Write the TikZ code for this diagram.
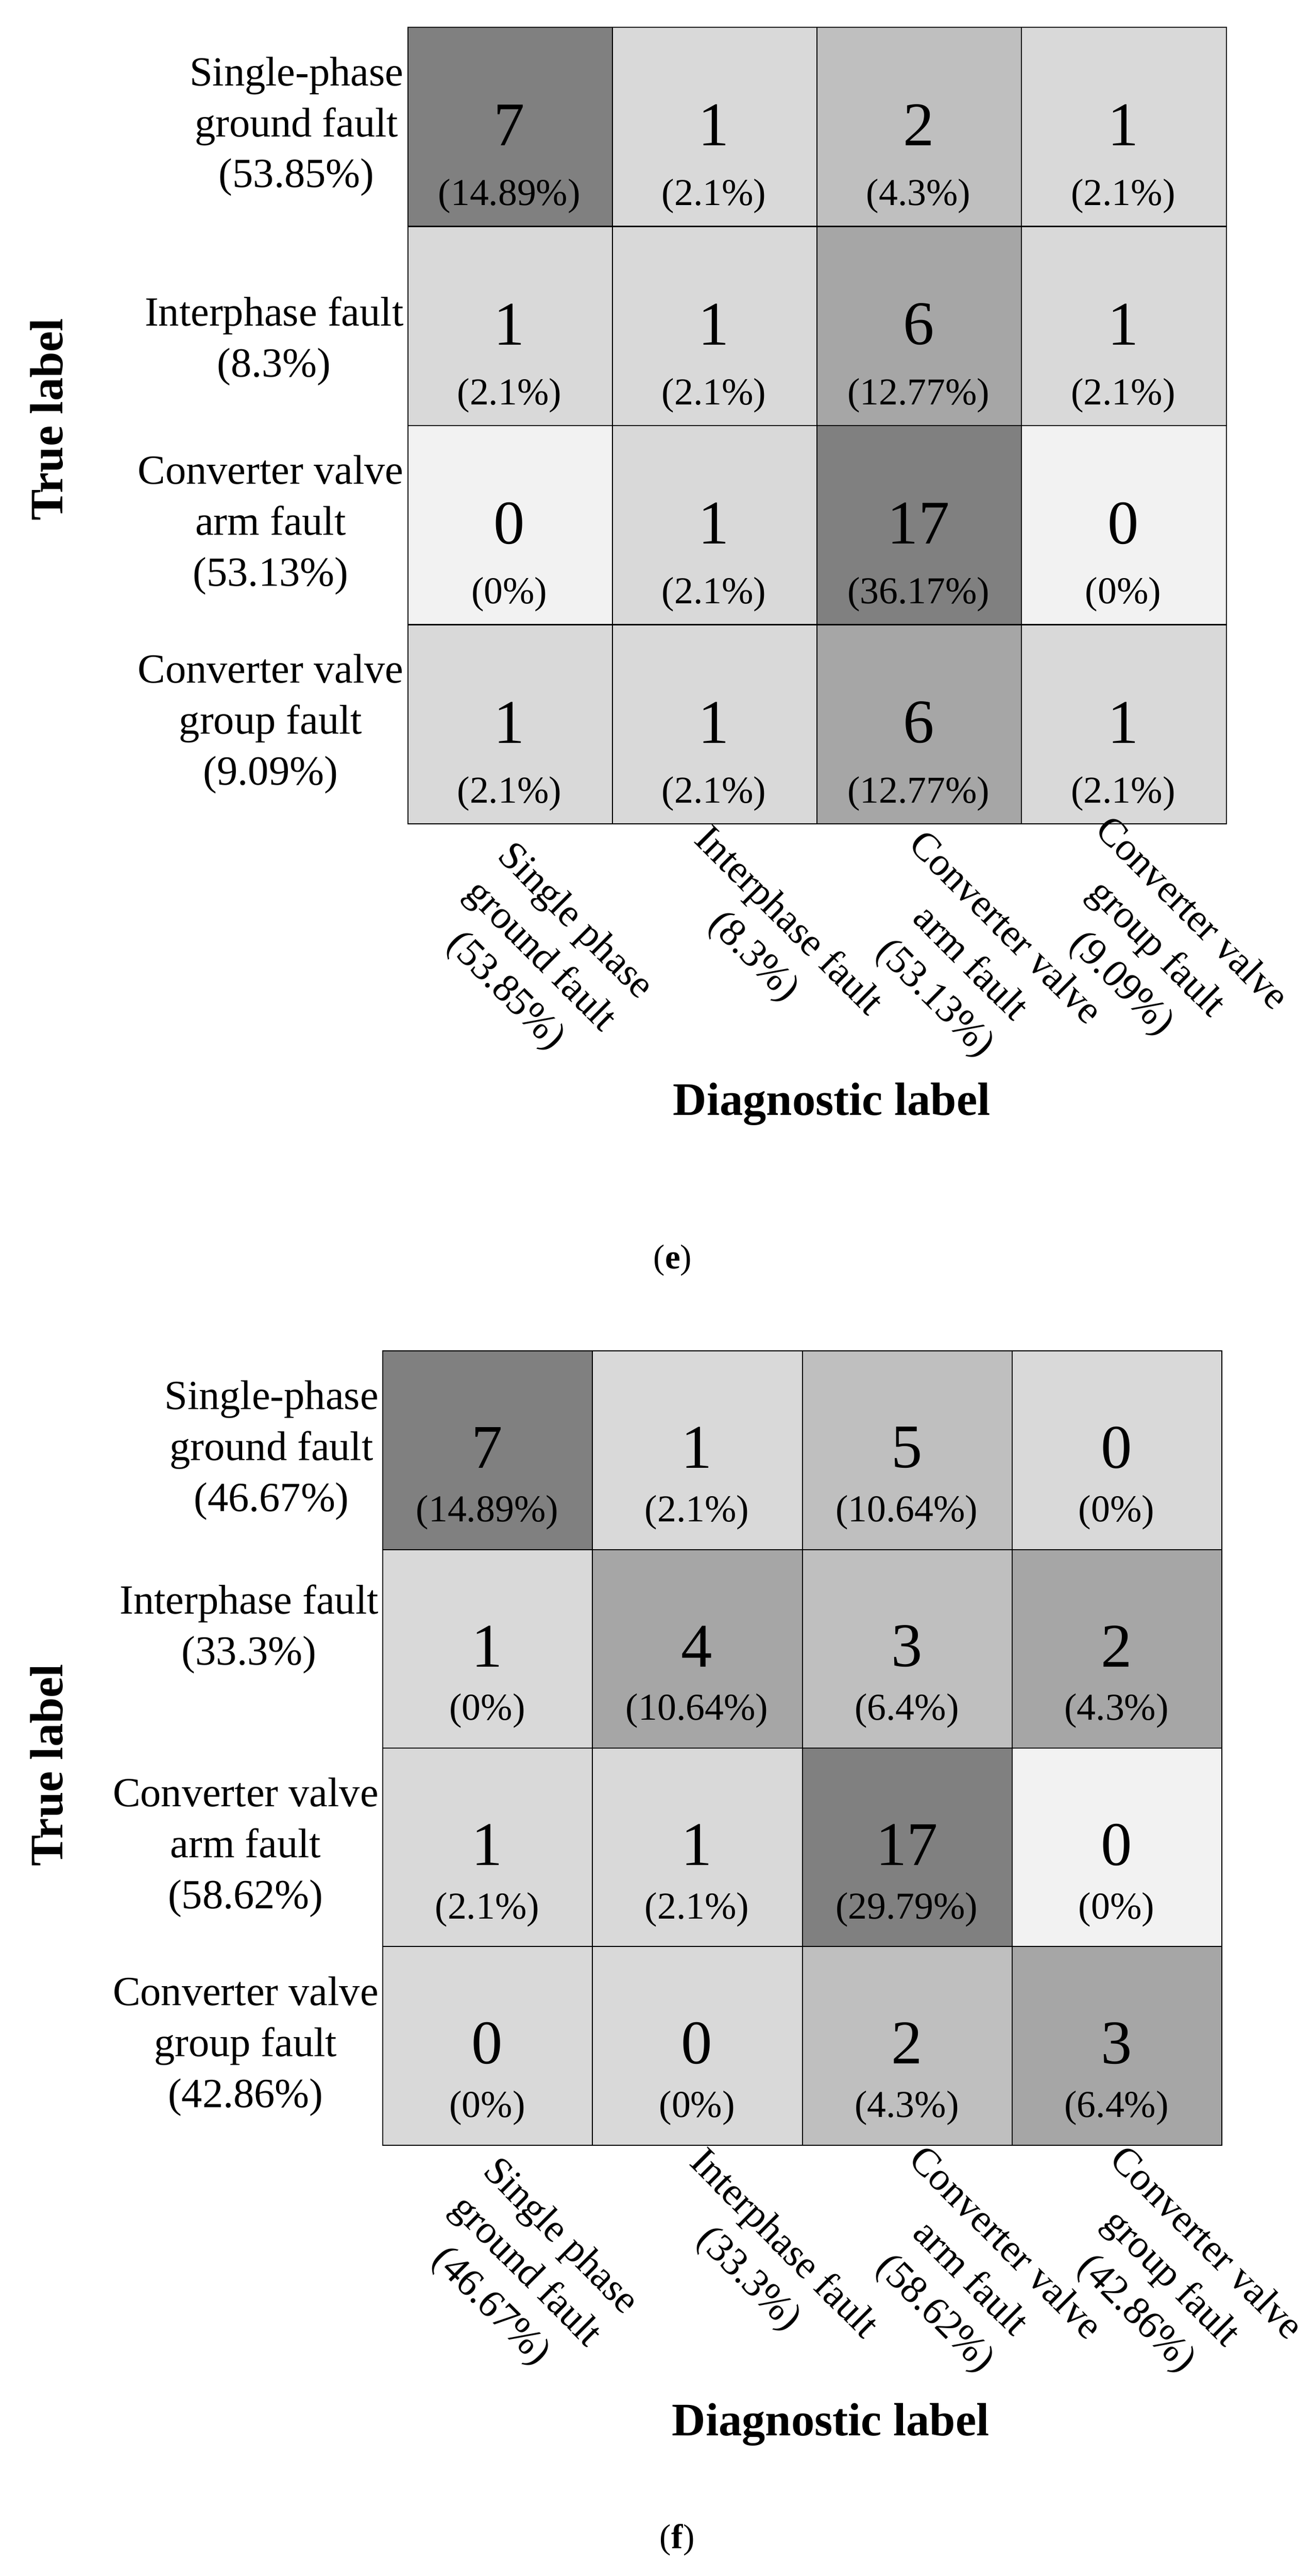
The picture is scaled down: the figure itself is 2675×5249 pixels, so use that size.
\documentclass[tikz,border=0pt]{standalone}
\usepackage{fontspec}
\setmainfont{Liberation Serif}
\definecolor{g1}{HTML}{808080}
\definecolor{g2}{HTML}{A6A6A6}
\definecolor{g3}{HTML}{BFBFBF}
\definecolor{g4}{HTML}{D9D9D9}
\definecolor{g5}{HTML}{F2F2F2}
\begin{document}
\begin{tikzpicture}[x=0.01cm,y=-0.01cm,
  cell/.style={draw=black,line width=0.6pt,minimum width=#1,minimum height=405*0.01cm,inner sep=0pt,anchor=north west},
  num/.style={font=\fontsize{36}{40}\selectfont},
  pct/.style={font=\fontsize{22}{26}\selectfont},
  rowlab/.style={font=\fontsize{24}{29.5}\selectfont,align=center,anchor=east,inner sep=0pt},
  collab/.style={font=\fontsize{23}{28.5}\selectfont,align=center,rotate=-45,inner sep=0pt},
  axlab/.style={font=\bfseries\fontsize{27}{30}\selectfont,inner sep=0pt},
  captxt/.style={font=\fontsize{20}{24}\selectfont,inner sep=0pt}]
\useasboundingbox (0,0) rectangle (2675,5249);
% ---------- (e) ----------
\foreach \c/\r/\v/\p/\col [count=\i] in {
 0/0/7/14.89/g1, 1/0/1/2.1/g4, 2/0/2/4.3/g3, 3/0/1/2.1/g4,
 0/1/1/2.1/g4, 1/1/1/2.1/g4, 2/1/6/12.77/g2, 3/1/1/2.1/g4,
 0/2/0/0/g5, 1/2/1/2.1/g4, 2/2/17/36.17/g1, 3/2/0/0/g5,
 0/3/1/2.1/g4, 1/3/1/2.1/g4, 2/3/6/12.77/g2, 3/3/1/2.1/g4}{
  \node[cell=417*0.01cm,fill=\col] (e\i) at ({830+417*\c},{55+405.75*\r}) {};
  \node[num] (en\i) at ({830+417*\c+208},{55+405.75*\r+200}) {\v};
  \node[pct] (ep\i) at ({830+417*\c+208},{55+405.75*\r+345}) {(\p\%)};
}
\node[rowlab] (er1) at (823,258) {Single-phase\\ground fault\\(53.85\%)};
\node[rowlab] (er2) at (823,695) {Interphase fault\\(8.3\%)};
\node[rowlab] (er3) at (823,1070) {Converter valve\\arm fault\\(53.13\%)};
\node[rowlab] (er4) at (823,1475) {Converter valve\\group fault\\(9.09\%)};
\node[collab] (ec1) at (1100,1950) {Single phase\\ground fault\\(53.85\%)};
\node[collab] (ec2) at (1570,1915) {Interphase fault\\(8.3\%)};
\node[collab] (ec3) at (1975,1965) {Converter valve\\arm fault\\(53.13\%)};
\node[collab] (ec4) at (2355,1935) {Converter valve\\group fault\\(9.09\%)};
\node[axlab] (ediag) at (1695,2250) {Diagnostic label};
\node[axlab,rotate=90] (etrue) at (95,855) {True label};
\node[captxt] (ecap) at (1371,2568) {(\textbf{e})};
% ---------- (f) ----------
\foreach \c/\r/\v/\p/\col [count=\i] in {
 0/0/7/14.89/g1, 1/0/1/2.1/g4, 2/0/5/10.64/g3, 3/0/0/0/g4,
 0/1/1/0/g4, 1/1/4/10.64/g2, 2/1/3/6.4/g3, 3/1/2/4.3/g2,
 0/2/1/2.1/g4, 1/2/1/2.1/g4, 2/2/17/29.79/g1, 3/2/0/0/g5,
 0/3/0/0/g4, 1/3/0/0/g4, 2/3/2/4.3/g3, 3/3/3/6.4/g2}{
  \node[cell=427.5*0.01cm,fill=\col] (f\i) at ({779+427.5*\c},{2752+404.5*\r}) {};
  \node[num] (fn\i) at ({779+427.5*\c+214},{2752+404.5*\r+198}) {\v};
  \node[pct] (fp\i) at ({779+427.5*\c+214},{2752+404.5*\r+330}) {(\p\%)};
}
\node[rowlab] (fr1) at (772,2955) {Single-phase\\ground fault\\(46.67\%)};
\node[rowlab] (fr2) at (772,3320) {Interphase fault\\(33.3\%)};
\node[rowlab] (fr3) at (772,3765) {Converter valve\\arm fault\\(58.62\%)};
\node[rowlab] (fr4) at (772,4170) {Converter valve\\group fault\\(42.86\%)};
\node[collab] (fc1) at (1070,4630) {Single phase\\ground fault\\(46.67\%)};
\node[collab] (fc2) at (1560,4610) {Interphase fault\\(33.3\%)};
\node[collab] (fc3) at (1975,4645) {Converter valve\\arm fault\\(58.62\%)};
\node[collab] (fc4) at (2385,4645) {Converter valve\\group fault\\(42.86\%)};
\node[axlab] (fdiag) at (1693,4940) {Diagnostic label};
\node[axlab,rotate=90] (ftrue) at (95,3597) {True label};
\node[captxt] (fcap) at (1380,5176) {(\textbf{f})};
\end{tikzpicture}
\end{document}
